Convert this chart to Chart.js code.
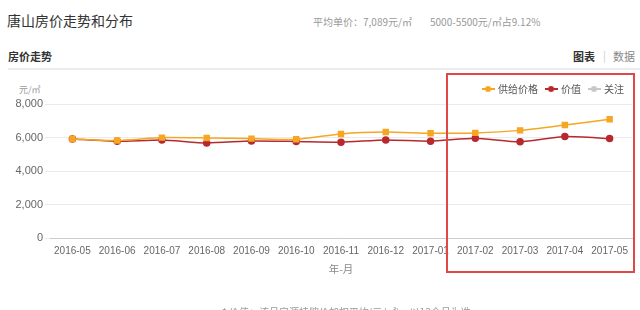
<!DOCTYPE html>
<html>
<head>
<meta charset="utf-8">
<script src="https://cdn.jsdelivr.net/npm/chart.js@4.4.0/dist/chart.umd.min.js"></script>
<style>
  body { margin: 0; background: #fff; font-family: 'Liberation Sans', 'Noto Sans CJK SC', sans-serif; }
  #page { position: relative; width: 640px; height: 310px; overflow: hidden; }
  .txt { position: absolute; white-space: nowrap; font-family: 'Noto Sans CJK SC', sans-serif; }
  #wrap { position: absolute; left: 0; top: 0; width: 640px; height: 310px; }
</style>
</head>
<body>
<div id="page">
  <div class="txt" style="left:7px; top:10px; font-size:14px; color:#333;">唐山房价走势和分布</div>
  <div class="txt" style="left:313px; top:14px; font-size:10px; color:#999;">平均单价：7,089元/㎡</div>
  <div class="txt" style="left:430px; top:14px; font-size:10px; color:#999;">5000-5500元/㎡占9.12%</div>
  <div class="txt" style="left:8px; top:48px; font-size:11px; color:#333; font-weight:bold;">房价走势</div>
  <div class="txt" style="left:573px; top:48px; font-size:11px; color:#333; font-weight:bold;">图表</div>
  <div class="txt" style="left:603px; top:47px; font-size:11px; color:#ccc;">|</div>
  <div class="txt" style="left:613px; top:48px; font-size:11px; color:#888;">数据</div>
  <div style="position:absolute; left:8px; top:68px; width:632px; height:2px; background:#ececec;"></div>
  <div class="txt" style="left:19px; top:83px; font-size:9px; color:#999;">元/㎡</div>
  <div id="wrap"><canvas id="priceChart"></canvas></div>
  <div class="txt" style="left:222px; top:304px; font-size:10px; color:#999;">* 价值：该月房源挂牌价加权平均(元/㎡)，以13个月为准</div>
  <div style="position:absolute; left:446px; top:73px; width:185px; height:196px; border:2px solid #e04848;"></div>
</div>
<script>
var months = ["2016-05", "2016-06", "2016-07", "2016-08", "2016-09", "2016-10", "2016-11",
              "2016-12", "2017-01", "2017-02", "2017-03", "2017-04", "2017-05"];
var supplyPrice = [5920, 5830, 6000, 5980, 5940, 5900, 6220, 6330, 6260, 6280, 6430, 6750, 7089];
var valuePrice  = [5920, 5780, 5860, 5680, 5800, 5770, 5730, 5860, 5790, 5960, 5750, 6060, 5940];
var attention   = [];
var yTicks = [0, 2000, 4000, 6000, 8000];

var ORANGE = "#f5a623";
var RED = "#b8292f";
var GREY = "#c8c8c8";

//legend marker: short line with a dot in the middle
function marker(color)
{
    var c = document.createElement("canvas");
    c.width = 13; c.height = 8;
    var g = c.getContext("2d");
    g.strokeStyle = color;
    g.lineWidth = 2;
    g.beginPath(); g.moveTo(0, 4); g.lineTo(13, 4); g.stroke();
    g.fillStyle = color;
    g.beginPath(); g.arc(6.5, 4, 3, 0, Math.PI * 2); g.fill();
    return c;
}

Chart.defaults.font.family = "'Liberation Sans', 'Noto Sans CJK SC', sans-serif";

const CHART = document.getElementById("priceChart");
let priceChart = new Chart(CHART, {
    type: 'line',
    data: {
        labels: months,
        datasets: [
            {
                label: "供给价格",
                data: supplyPrice,
                borderColor: ORANGE,
                backgroundColor: ORANGE,
                borderWidth: 1.5,
                pointRadius: 3.5,
                pointStyle: 'rect',
                tension: 0.2
            },
            {
                label: "价值",
                data: valuePrice,
                borderColor: RED,
                backgroundColor: RED,
                borderWidth: 1.5,
                pointRadius: 3,
                tension: 0.2
            },
            {
                label: "关注",
                data: attention,
                borderColor: GREY,
                backgroundColor: GREY,
                borderWidth: 1.5,
                pointRadius: 3
            }
        ]
    },
    options: {
        responsive: true,
        maintainAspectRatio: false,
        animation: false,
        layout: { padding: { top: 76, right: 8, bottom: 31, left: 0 } },
        plugins: {
            tooltip: { enabled: false },
            legend: {
                position: 'top',
                align: 'end',
                labels: {
                    usePointStyle: true,
                    boxWidth: 13,
                    boxHeight: 8,
                    padding: 8,
                    color: "#555",
                    font: { size: 10, family: "'Noto Sans CJK SC', sans-serif" },
                    generateLabels: function(chart) {
                        return chart.data.datasets.map(function(ds, i) {
                            return {
                                text: ds.label,
                                pointStyle: marker(ds.borderColor),
                                fillStyle: ds.borderColor,
                                strokeStyle: ds.borderColor,
                                lineWidth: 0,
                                fontColor: "#555",
                                hidden: false,
                                datasetIndex: i
                            };
                        });
                    }
                }
            }
        },
        scales: {
            x: {
                offset: true,
                grid: { display: false, drawTicks: true, tickLength: 4, color: "#ccc" },
                border: { color: "#ccc" },
                ticks: { color: "#666", font: { size: 10 }, maxRotation: 0, autoSkip: false, padding: 3 },
                title: { display: true, text: "年-月", color: "#888", font: { size: 10.5, family: "'Noto Sans CJK SC', sans-serif" }, padding: { top: 2 } }
            },
            y: {
                min: 0,
                max: 8000,
                afterFit: function(scale) { scale.width = 50; },
                afterBuildTicks: function(scale) { scale.ticks = yTicks.map(function(v) { return { value: v }; }); },
                grid: { color: "#ebebeb", drawTicks: true, tickLength: 5 },
                border: { display: false },
                ticks: {
                    color: "#666",
                    font: { size: 11 },
                    padding: 2,
                    callback: function(v) { return v.toLocaleString("en-US"); }
                }
            }
        }
    }
});
</script>
</body>
</html>
